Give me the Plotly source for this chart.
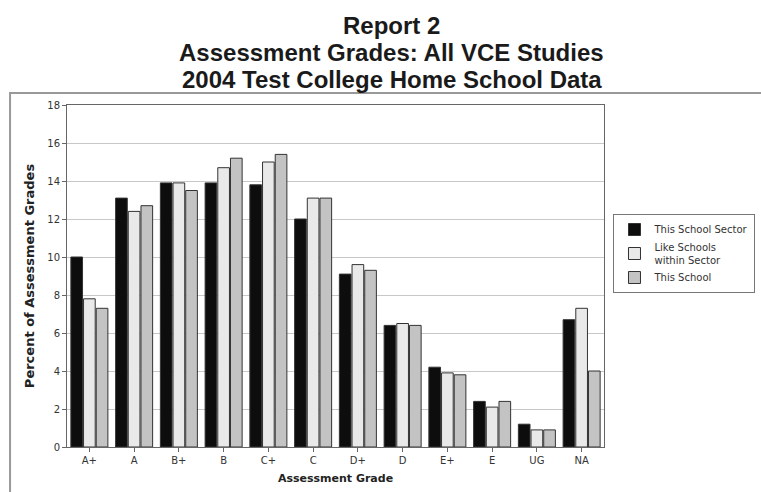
import plotly.graph_objects as go

grades = ["A+", "A", "B+", "B", "C+", "C", "D+", "D", "E+", "E", "UG", "NA"]
sector = [10.0, 13.1, 13.9, 13.9, 13.8, 12.0, 9.1, 6.4, 4.2, 2.4, 1.2, 6.7]
like_schools = [7.8, 12.4, 13.9, 14.7, 15.0, 13.1, 9.6, 6.5, 3.9, 2.1, 0.9, 7.3]
this_school = [7.3, 12.7, 13.5, 15.2, 15.4, 13.1, 9.3, 6.4, 3.8, 2.4, 0.9, 4.0]
y_ticks = [0, 2, 4, 6, 8, 10, 12, 14, 16, 18]
title_lines = ["Report 2", "Assessment Grades: All VCE Studies", "2004 Test College Home School Data"]

series = [
    ("This School Sector", sector, "#0d0d0d"),
    ("Like Schools<br>within Sector", like_schools, "#e9e9e9"),
    ("This School", this_school, "#c3c3c3"),
]

fig = go.Figure()
for name, vals, col in series:
    fig.add_trace(go.Bar(
        x=grades, y=vals, name=name,
        marker=dict(color=col, line=dict(color="#333333", width=1)),
    ))

font_family = "DejaVu Sans, Liberation Sans, Arial, sans-serif"
title_family = "Liberation Sans, Arial, sans-serif"
plot_left, plot_right = 67, 604.5
plot_top, plot_bottom = 105, 447
plot_w = plot_right - plot_left
plot_h = plot_bottom - plot_top

annotations = []
for line, yc in zip(title_lines, [25, 52, 79]):
    annotations.append(dict(
        text="<b>%s</b>" % line, xref="paper", yref="paper",
        x=(392 - plot_left) / plot_w, xanchor="center",
        y=(plot_bottom - yc) / plot_h, yanchor="middle",
        showarrow=False, font=dict(size=24, color="#1a1a1a", family=title_family),
    ))

fig.update_layout(
    width=761, height=492,
    paper_bgcolor="white", plot_bgcolor="white",
    margin=dict(l=plot_left, r=761 - plot_right, t=plot_top, b=492 - plot_bottom, autoexpand=False),
    barmode="group", bargap=0.15, bargroupgap=0.08,
    font=dict(family=font_family, color="#222222", size=10),
    annotations=annotations,
    legend=dict(
        x=(614 - plot_left) / plot_w, xanchor="left", y=(plot_bottom - 214) / plot_h, yanchor="top",
        bordercolor="#777777", borderwidth=1,
        font=dict(size=10, color="#333333"),
        tracegroupgap=1,
    ),
    xaxis=dict(
        title=dict(text="<b>Assessment Grade</b>", font=dict(size=11), standoff=9),
        showline=True, linecolor="#666666", mirror=True,
        ticks="outside", ticklen=4, tickcolor="#666666",
        tickfont=dict(size=10, color="#333333"),
    ),
    yaxis=dict(
        title=dict(text="<b>Percent of Assessment Grades</b>", font=dict(size=13), standoff=9),
        range=[0, 18], tickvals=y_ticks,
        showline=True, linecolor="#666666", mirror=True,
        ticks="outside", ticklen=4, tickcolor="#666666",
        showgrid=True, gridcolor="#c8c8c8", gridwidth=1,
        tickfont=dict(size=10, color="#333333"),
        zeroline=False,
    ),
    shapes=[dict(
        type="rect", xref="paper", yref="paper",
        x0=(10 - plot_left) / plot_w, x1=1.3, y0=-0.2, y1=(plot_bottom - 93) / plot_h,
        line=dict(color="#999999", width=2), fillcolor="rgba(0,0,0,0)", layer="below",
    )],
)

fig.write_html("out.html", config={"displayModeBar": False},
               post_script="document.body.style.margin='0';")
